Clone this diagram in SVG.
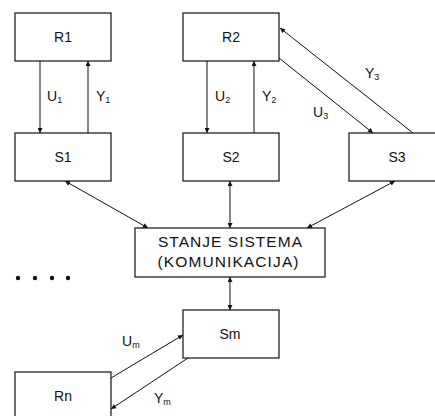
<svg xmlns="http://www.w3.org/2000/svg" width="435" height="416" viewBox="0 0 435 416">
<defs>
<style>
rect.box{fill:#fff;stroke:#111;stroke-width:1.2}
text{font-family:"Liberation Sans",Arial,sans-serif;fill:#111}
.lbl{font-size:14px;text-anchor:middle}
.sig{font-size:14px}
.sub{font-size:9px}
.big{font-size:15.5px;text-anchor:middle}
#connectors line{stroke:#111;stroke-width:1}
</style>
<marker id="ah" viewBox="0 0 6 6" refX="6" refY="3" markerWidth="6" markerHeight="5" markerUnits="userSpaceOnUse" orient="auto-start-reverse">
<path d="M0,0 L6,3 L0,6 z" fill="#111"/>
</marker>
</defs>
<rect width="435" height="416" fill="#fff"/>
<g id="connectors">
<line x1="40" y1="61" x2="40" y2="133" marker-end="url(#ah)"/>
<line x1="88" y1="133" x2="88" y2="61" marker-end="url(#ah)"/>
<line x1="207" y1="61" x2="207" y2="133" marker-end="url(#ah)"/>
<line x1="254" y1="133" x2="254" y2="61" marker-end="url(#ah)"/>
<line x1="279" y1="58" x2="373" y2="133" marker-end="url(#ah)"/>
<line x1="413" y1="133" x2="280" y2="28" marker-end="url(#ah)"/>
<line x1="65" y1="181" x2="148" y2="228" marker-start="url(#ah)" marker-end="url(#ah)"/>
<line x1="230" y1="181" x2="230" y2="228" marker-start="url(#ah)" marker-end="url(#ah)"/>
<line x1="395" y1="181" x2="307" y2="228" marker-start="url(#ah)" marker-end="url(#ah)"/>
<line x1="230" y1="277" x2="230" y2="310" marker-start="url(#ah)" marker-end="url(#ah)"/>
<line x1="111" y1="378" x2="183" y2="335" marker-end="url(#ah)"/>
<line x1="188" y1="358" x2="111" y2="409" marker-end="url(#ah)"/>
</g>
<g id="R1"><rect class="box" x="15" y="13" width="96" height="48"/><text class="lbl" x="63" y="42">R1</text></g>
<g id="S1"><rect class="box" x="15" y="133" width="96" height="48"/><text class="lbl" x="63" y="162">S1</text></g>
<g id="R2"><rect class="box" x="183" y="13" width="96" height="48"/><text class="lbl" x="231" y="42">R2</text></g>
<g id="S2"><rect class="box" x="183" y="133" width="96" height="48"/><text class="lbl" x="231" y="162">S2</text></g>
<g id="S3"><rect class="box" x="349" y="133" width="96" height="48"/><text class="lbl" x="397" y="162">S3</text></g>
<g id="STANJE"><rect class="box" x="135" y="228" width="190" height="49"/>
<text class="big" x="230" y="247" textLength="144" lengthAdjust="spacing">STANJE SISTEMA</text>
<text class="big" x="228" y="267" textLength="141" lengthAdjust="spacing">(KOMUNIKACIJA)</text></g>
<g id="Sm"><rect class="box" x="183" y="310" width="96" height="48"/><text class="lbl" x="230" y="339">Sm</text></g>
<g id="Rn"><rect class="box" x="15" y="372" width="96" height="48"/><text class="lbl" x="63" y="401">Rn</text></g>
<g id="dots" fill="#111">
<circle cx="18" cy="278" r="2.2"/><circle cx="35" cy="278" r="2.2"/><circle cx="52" cy="278" r="2.2"/><circle cx="68" cy="278" r="2.2"/>
</g>
<g id="labels">
<text class="sig" x="47" y="101">U<tspan class="sub" dy="2">1</tspan></text>
<text class="sig" x="96" y="101">Y<tspan class="sub" dy="2">1</tspan></text>
<text class="sig" x="215" y="101">U<tspan class="sub" dy="2">2</tspan></text>
<text class="sig" x="262" y="101">Y<tspan class="sub" dy="2">2</tspan></text>
<text class="sig" x="313" y="117">U<tspan class="sub" dy="2">3</tspan></text>
<text class="sig" x="365" y="78">Y<tspan class="sub" dy="2">3</tspan></text>
<text class="sig" x="122" y="346">U<tspan class="sub" dy="2">m</tspan></text>
<text class="sig" x="154" y="403">Y<tspan class="sub" dy="2">m</tspan></text>
</g>
</svg>
